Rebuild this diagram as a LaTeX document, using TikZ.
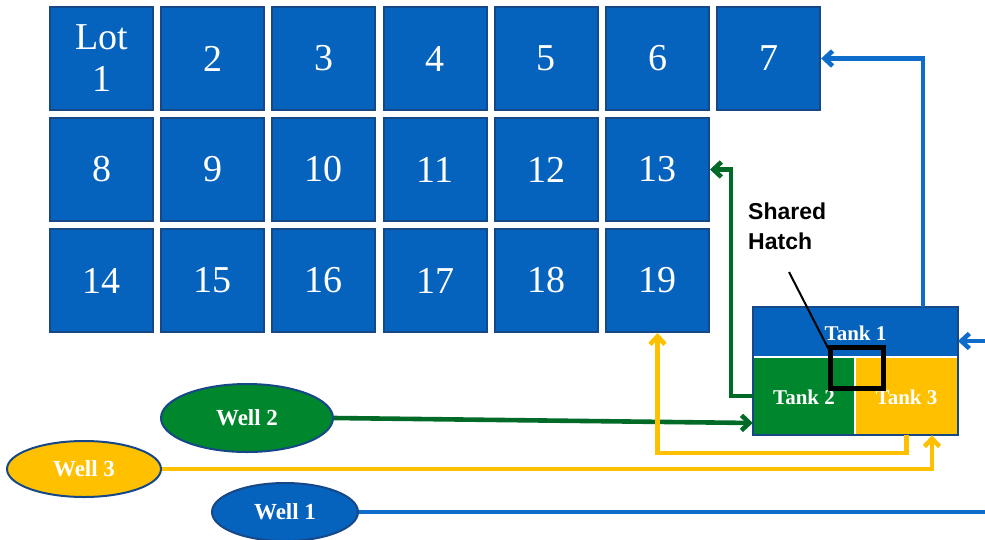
\documentclass[tikz,border=0pt]{standalone}
\usepackage{fontspec}
\setmainfont{Liberation Serif}
\setsansfont{Liberation Sans}
\usetikzlibrary{arrows.meta,shapes.geometric}
\definecolor{lotblue}{RGB}{5,99,190}
\definecolor{edgeblue}{RGB}{22,72,135}
\definecolor{lineblue}{RGB}{14,108,202}
\definecolor{wellgreen}{RGB}{0,134,44}
\definecolor{linegreen}{RGB}{0,106,38}
\definecolor{gold}{RGB}{255,192,0}
\tikzset{
  lot/.style={rectangle,draw=edgeblue,line width=2pt,fill=lotblue,minimum width=103pt,minimum height=103pt,inner sep=0pt,text=white,font=\fontsize{38}{42}\selectfont,align=center},
  well/.style={ellipse,draw=edgeblue,line width=2pt,inner sep=0pt,text=white,font=\bfseries\fontsize{23}{25}\selectfont},
  tankpart/.style={rectangle,inner sep=0pt,text=white,font=\bfseries\fontsize{21}{23}\selectfont},
  conn/.style={line width=4.6pt,-{Straight Barb[length=8pt,width=15pt]}},
}
\begin{document}
\begin{tikzpicture}[x=1pt,y=-1pt]
\useasboundingbox (0,0) rectangle (985,539);
% lots
\foreach \n/\c/\r in {1/0/0,2/1/0,3/2/0,4/3/0,5/4/0,6/5/0,7/6/0,
                       8/0/1,9/1/1,10/2/1,11/3/1,12/4/1,13/5/1,
                       14/0/2,15/1/2,16/2/2,17/3/2,18/4/2,19/5/2}{
  \pgfmathsetmacro{\xx}{101.5+111.2*\c}
  \pgfmathsetmacro{\yy}{58.5+111*\r}
  \ifnum\n=1
    \node[lot] (b\n) at (\xx,\yy) {Lot\\1};
  \else
    \node[lot] (b\n) at (\xx,\yy) {\n};
  \fi
}
% tank
\node[rectangle,minimum width=205pt,minimum height=128pt,inner sep=0pt] (tank) at (855.5,371) {};
\node[tankpart,fill=lotblue,minimum width=205pt,minimum height=50pt] (tank1) at (855.5,332) {};
\node[tankpart,fill=wellgreen,minimum width=102pt,minimum height=78pt] (tank2) at (804,396) {};
\node[tankpart,fill=gold,minimum width=103pt,minimum height=78pt] (tank3) at (906.5,396) {};
\draw[white,line width=2.6pt] (tank.west |- 0,357) -- (tank.east |- 0,357);
\draw[white,line width=2.6pt] (855,357) -- (tank.south -| 855,0);
\draw[edgeblue,line width=2.2pt] (tank.north west) rectangle (tank.south east);
\node[tankpart] (t1label) at (855.5,333) {Tank 1};
\node[tankpart] (t2label) at (804,397) {Tank 2};
\node[tankpart] (t3label) at (906.5,397) {Tank 3};
% wells
\node[well,fill=wellgreen,minimum width=172pt,minimum height=68pt] (well2) at (247,418) {Well 2};
\node[well,fill=gold,minimum width=154pt,minimum height=56pt] (well3) at (84,469) {Well 3};
\node[well,fill=lotblue,minimum width=146pt,minimum height=58pt] (well1) at (285,512) {Well 1};
% connectors
\coordinate (t1in) at (958,341);
\draw[conn,lineblue] (well1.east) -- (1000,512) |- (t1in);
\draw[conn,lineblue] (tank.north -| 923,0) |- (b7.east);
\draw[conn,linegreen] (well2.east) -- (tank.west |- 0,423);
\draw[conn,linegreen] (tank2.west) -- (731,396) |- (b13.east);
\draw[conn,gold] (well3.east) -| (tank.south -| 932,0);
\draw[conn,gold] (tank3.south) -- (906.5,453) -| (b19.south);
% shared hatch
\node[font=\sffamily\bfseries\fontsize{23}{30}\selectfont,align=left,anchor=north west,inner sep=0pt] (hatchlabel) at (748,203) {Shared\\Hatch};
\coordinate (hatchtip) at (830,352);
\draw[black,line width=2pt] (789,272) -- (hatchtip);
\node[rectangle,draw=black,line width=5pt,minimum width=53pt,minimum height=41pt,inner sep=0pt] (hatch) at (856.5,367.5) {};
\end{tikzpicture}
\end{document}
